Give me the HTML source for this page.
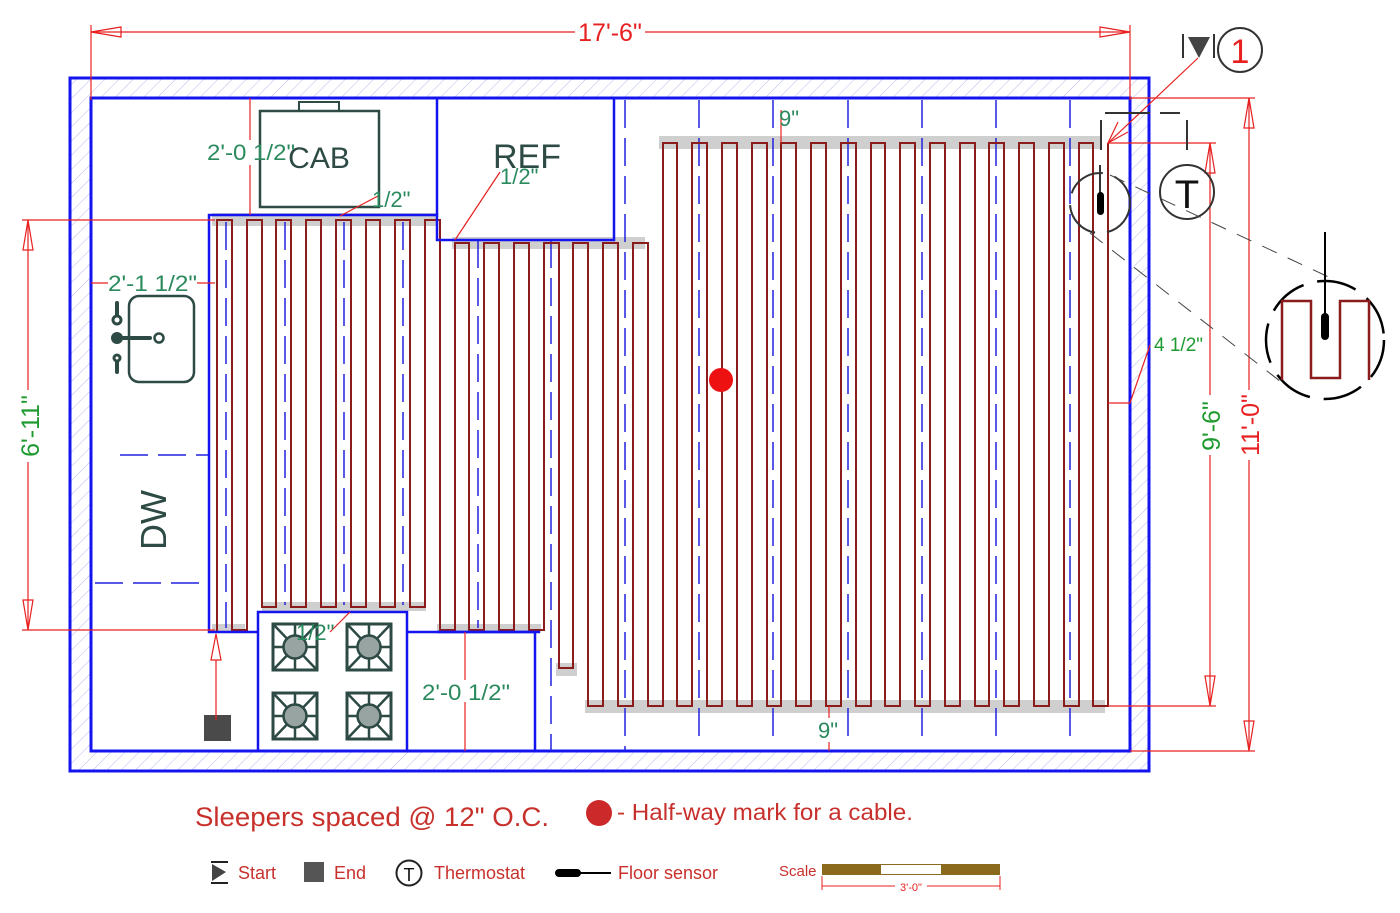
<!DOCTYPE html>
<html><head><meta charset="utf-8"><style>
html,body{margin:0;padding:0;background:#fff;}
svg{display:block;}
text{font-family:"Liberation Sans Narrow","Liberation Sans",sans-serif;}
</style></head><body>
<svg width="1400" height="913" viewBox="0 0 1400 913" xmlns="http://www.w3.org/2000/svg">
<defs>
<pattern id="h" width="10" height="10" patternUnits="userSpaceOnUse" patternTransform="rotate(45)">
<line x1="0" y1="0" x2="0" y2="10" stroke="#b8bce8" stroke-width="1"/>
</pattern>
<g id="burner">
<rect x="-22" y="-23" width="44" height="46" fill="none" stroke="#2d4a45" stroke-width="3"/>
<line x1="-22" y1="-23" x2="22" y2="23" stroke="#2d4a45" stroke-width="2.5"/>
<line x1="22" y1="-23" x2="-22" y2="23" stroke="#2d4a45" stroke-width="2.5"/>
<line x1="0" y1="-23" x2="0" y2="23" stroke="#2d4a45" stroke-width="2.5"/>
<line x1="-22" y1="0" x2="22" y2="0" stroke="#2d4a45" stroke-width="2.5"/>
<circle r="11.5" fill="#98a4a2" stroke="#2d4a45" stroke-width="2.5"/>
</g>
</defs>

<path d="M70 78 H1149 V771 H70 Z M91 98 V751 H1130 V98 Z" fill="url(#h)" fill-rule="evenodd"/>
<rect x="70" y="78" width="1079" height="693" fill="none" stroke="#1414f0" stroke-width="3"/>
<rect x="91" y="98" width="1039" height="653" fill="none" stroke="#1414f0" stroke-width="3"/>

<g fill="#cfcfcf">
<rect x="212" y="213" width="225" height="13"/>
<rect x="452" y="237" width="193" height="12"/>
<rect x="659" y="136" width="441" height="13"/>
<rect x="585" y="700" width="520" height="13"/>
<rect x="262" y="602" width="164" height="9"/>
<rect x="437" y="624" width="104" height="9"/>
<rect x="212" y="624" width="33" height="9"/>
<rect x="556" y="663" width="21" height="13"/>
</g>

<g stroke="#2222e0" stroke-width="1.5" stroke-dasharray="28 10" fill="none">
<line x1="226" y1="222" x2="226" y2="628"/>
<line x1="285" y1="222" x2="285" y2="605"/>
<line x1="344" y1="222" x2="344" y2="605"/>
<line x1="403" y1="222" x2="403" y2="605"/>
<line x1="478" y1="240" x2="478" y2="628"/>
<line x1="551" y1="240" x2="551" y2="751"/>
<line x1="625" y1="100" x2="625" y2="751"/>
<line x1="699" y1="100" x2="699" y2="740"/>
<line x1="773" y1="100" x2="773" y2="740"/>
<line x1="848" y1="100" x2="848" y2="740"/>
<line x1="922" y1="100" x2="922" y2="740"/>
<line x1="996" y1="100" x2="996" y2="740"/>
<line x1="1070" y1="100" x2="1070" y2="740"/>
<line x1="120" y1="455" x2="209" y2="455"/>
<line x1="95" y1="583" x2="209" y2="583"/>
</g>

<path fill="none" stroke="#8b1c1c" stroke-width="2" d="M217 632 V220 H232 V630 H247 V220 H262 V607 H276 V220 H291 V607 H306 V220 H321 V607 H336 V220 H351 V607 H366 V220 H380 V607 H395 V220 H410 V607 H425 V220 H440 V630 H455 V243 H469 V630 H484 V243 H499 V630 H514 V243 H529 V630 H544 V243 H559 V668 H573 V243 H588 V706 H603 V243 H618 V706 H633 V243 H648 V706 H663 V143 H677 V706 H692 V143 H707 V706 H722 V143 H737 V706 H752 V143 H767 V706 H781 V143 H796 V706 H811 V143 H826 V706 H841 V143 H856 V706 H871 V143 H885 V706 H900 V143 H915 V706 H930 V143 H945 V706 H960 V143 H975 V706 H989 V143 H1004 V706 H1019 V143 H1034 V706 H1049 V143 H1064 V706 H1079 V143 H1093 V706 H1108 V143"/>

<g stroke="#1414f0" stroke-width="2.5" fill="none">
<polyline points="258,632 209,632 209,215 437,215 437,240 614,240 614,98"/>
<line x1="437" y1="98" x2="437" y2="215"/>
<rect x="258" y="612" width="149" height="139"/>
<polyline points="407,632 535,632 535,751"/>
<line x1="437" y1="632" x2="540" y2="632"/>
</g>

<rect x="260" y="111" width="119" height="96" fill="none" stroke="#2d4a45" stroke-width="2.5"/>
<rect x="299" y="102" width="40" height="9" fill="none" stroke="#2d4a45" stroke-width="2"/>
<text x="319" y="168" font-size="30" fill="#2d4a45" text-anchor="middle">CAB</text>
<text x="527" y="168" font-size="34" fill="#2d4a45" text-anchor="middle">REF</text>

<rect x="129" y="296" width="65" height="86" rx="10" fill="none" stroke="#2d4a45" stroke-width="2.5"/>
<g stroke="#2d4a45" stroke-width="4" fill="none" stroke-linecap="round">
<line x1="117" y1="303" x2="117" y2="318"/>
<line x1="117" y1="338" x2="150" y2="338"/>
<line x1="117" y1="360" x2="117" y2="372"/>
</g>
<circle cx="117" cy="320" r="4" fill="#fff" stroke="#2d4a45" stroke-width="3"/>
<circle cx="117" cy="338" r="6" fill="#2d4a45"/>
<circle cx="159" cy="338" r="4.5" fill="#fff" stroke="#2d4a45" stroke-width="2.5"/>
<circle cx="117" cy="358" r="4.5" fill="#2d4a45"/>
<circle cx="117" cy="358" r="1.5" fill="#fff"/>

<text transform="translate(166,520) rotate(-90)" font-size="36" fill="#2d4a45" text-anchor="middle">DW</text>

<use href="#burner" x="295" y="647"/>
<use href="#burner" x="369" y="647"/>
<use href="#burner" x="295" y="716"/>
<use href="#burner" x="369" y="716"/>

<rect x="204" y="715" width="27" height="26" fill="#4a4a4a"/>

<g stroke="#e82020" stroke-width="1.2" fill="none">
<line x1="91" y1="25" x2="91" y2="100"/>
<line x1="1130" y1="25" x2="1130" y2="100"/>
<line x1="91" y1="32" x2="575" y2="32"/>
<line x1="645" y1="32" x2="1130" y2="32"/>
<polygon points="91,32 121,27 121,37"/>
<polygon points="1130,32 1100,27 1100,37"/>
<line x1="22" y1="220" x2="215" y2="220"/>
<line x1="22" y1="630" x2="215" y2="630"/>
<line x1="28" y1="220" x2="28" y2="390"/>
<line x1="28" y1="462" x2="28" y2="630"/>
<polygon points="28,220 23,250 33,250"/>
<polygon points="28,630 23,600 33,600"/>
<line x1="1130" y1="98" x2="1255" y2="98"/>
<line x1="1130" y1="751" x2="1255" y2="751"/>
<line x1="1108" y1="143" x2="1216" y2="143"/>
<line x1="1108" y1="706" x2="1216" y2="706"/>
<line x1="1249" y1="98" x2="1249" y2="390"/>
<line x1="1249" y1="460" x2="1249" y2="751"/>
<polygon points="1249,98 1244,128 1254,128"/>
<polygon points="1249,751 1244,721 1254,721"/>
<line x1="1210" y1="143" x2="1210" y2="395"/>
<line x1="1210" y1="455" x2="1210" y2="706"/>
<polygon points="1210,143 1205,173 1215,173"/>
<polygon points="1210,706 1205,676 1215,676"/>
<line x1="250" y1="98" x2="250" y2="140"/>
<line x1="250" y1="165" x2="250" y2="215"/>
<line x1="91" y1="283" x2="108" y2="283"/>
<line x1="197" y1="283" x2="215" y2="283"/>
<line x1="340" y1="216" x2="378" y2="196"/>
<line x1="455" y1="240" x2="500" y2="172"/>
<line x1="330" y1="632" x2="350" y2="612"/>
<line x1="465" y1="632" x2="465" y2="680"/>
<line x1="465" y1="702" x2="465" y2="751"/>
<line x1="781" y1="110" x2="781" y2="143"/>
<line x1="829" y1="706" x2="829" y2="718"/>
<line x1="829" y1="742" x2="829" y2="751"/>
<polyline points="1108,403 1130,403 1150,345"/>
<line x1="216" y1="720" x2="216" y2="634"/>
<polygon points="216,634 211,660 221,660" fill="#fff"/>
<line x1="1198" y1="58" x2="1108" y2="143"/>
<polyline points="1118,122 1108,143 1128,132"/>
</g>
<text x="610" y="41" font-size="25" fill="#e82020" text-anchor="middle">17'-6"</text>
<text transform="translate(39,426) rotate(-90)" font-size="25" fill="#1e9a30" text-anchor="middle">6'-11"</text>
<text transform="translate(1220,426) rotate(-90)" font-size="25" fill="#1e9a30" text-anchor="middle">9'-6"</text>
<text transform="translate(1259,425) rotate(-90)" font-size="25" fill="#e82020" text-anchor="middle">11'-0"</text>

<g fill="#2a8a5e" font-size="22">
<text x="207" y="160" textLength="88" lengthAdjust="spacingAndGlyphs">2'-0 1/2"</text>
<text x="108" y="291" textLength="89" lengthAdjust="spacingAndGlyphs">2'-1 1/2"</text>
<text x="372" y="207">1/2"</text>
<text x="500" y="184">1/2"</text>
<text x="296" y="640">1/2"</text>
<text x="422" y="700" textLength="88" lengthAdjust="spacingAndGlyphs">2'-0 1/2"</text>
<text x="779" y="126">9"</text>
<text x="818" y="738">9"</text>
<text x="1154" y="351" font-size="19" fill="#1e9a30">4 1/2"</text>
</g>

<circle cx="721" cy="380" r="12" fill="#ee1111"/>

<g stroke="#333" stroke-width="2" fill="none">
<line x1="1183" y1="34" x2="1183" y2="58"/>
<line x1="1214" y1="34" x2="1214" y2="58"/>
<circle cx="1240" cy="50" r="22"/>
<line x1="1105" y1="113" x2="1150" y2="113"/>
<line x1="1160" y1="113" x2="1180" y2="113"/>
<line x1="1101" y1="120" x2="1101" y2="150"/>
<line x1="1187" y1="120" x2="1187" y2="150"/>
<circle cx="1187" cy="192" r="27"/>
<circle cx="1100" cy="203" r="30" stroke-dasharray="40 12"/>
<line x1="1100" y1="165" x2="1100" y2="200"/>
</g>
<polygon points="1188,37 1210,37 1199,58" fill="#444"/>
<text x="1240" y="63" font-size="34" fill="#e82020" text-anchor="middle">1</text>
<text x="1187" y="208" font-size="40" fill="#111" text-anchor="middle">T</text>
<rect x="1097" y="192" width="7" height="23" rx="3.5" fill="#000"/>
<g stroke="#444" stroke-width="1" stroke-dasharray="16 12" fill="none">
<line x1="1110" y1="175" x2="1335" y2="280"/>
<line x1="1090" y1="233" x2="1285" y2="385"/>
</g>
<circle cx="1325" cy="340" r="59" fill="#fff" stroke="#000" stroke-width="2.5" stroke-dasharray="40 14"/>
<polyline points="1282,380 1282,301 1311,301 1311,378 1340,378 1340,301 1369,301 1369,380" fill="none" stroke="#8b1c1c" stroke-width="2.5"/>
<line x1="1325" y1="232" x2="1325" y2="320" stroke="#000" stroke-width="2"/>
<rect x="1321" y="313" width="8" height="27" rx="4" fill="#000"/>

<text x="195" y="826" font-size="27" fill="#c8302c" textLength="354" lengthAdjust="spacingAndGlyphs">Sleepers spaced @ 12" O.C.</text>
<circle cx="599" cy="813" r="13" fill="#cc2a2a"/>
<text x="617" y="820" font-size="23" fill="#c8302c" textLength="296" lengthAdjust="spacingAndGlyphs">- Half-way mark for a cable.</text>

<g stroke="#222" stroke-width="2">
<line x1="211" y1="862" x2="228" y2="862"/>
<line x1="211" y1="883" x2="228" y2="883"/>
</g>
<polygon points="212,864 226,872 212,881" fill="#444"/>
<text x="238" y="879" font-size="18" fill="#c8302c">Start</text>
<rect x="304" y="862" width="20" height="20" fill="#555"/>
<text x="334" y="879" font-size="18" fill="#c8302c">End</text>
<circle cx="409" cy="873" r="12.5" fill="none" stroke="#222" stroke-width="2"/>
<text x="409" y="881" font-size="18" fill="#111" text-anchor="middle">T</text>
<text x="434" y="879" font-size="18" fill="#c8302c">Thermostat</text>
<rect x="555" y="869" width="26" height="8" rx="4" fill="#000"/>
<line x1="578" y1="873" x2="611" y2="873" stroke="#000" stroke-width="2"/>
<text x="618" y="879" font-size="18" fill="#c8302c">Floor sensor</text>
<text x="779" y="876" font-size="15" fill="#c8302c">Scale</text>
<rect x="822" y="864" width="178" height="11" fill="#8b6a1e"/>
<rect x="881" y="865" width="60" height="9" fill="#fff"/>
<g stroke="#e82020" stroke-width="1">
<line x1="822" y1="876" x2="822" y2="890"/>
<line x1="1000" y1="876" x2="1000" y2="890"/>
<line x1="822" y1="886" x2="895" y2="886"/>
<line x1="927" y1="886" x2="1000" y2="886"/>
</g>
<text x="911" y="891" font-size="11" fill="#e82020" text-anchor="middle">3'-0"</text>
</svg>
</body></html>
